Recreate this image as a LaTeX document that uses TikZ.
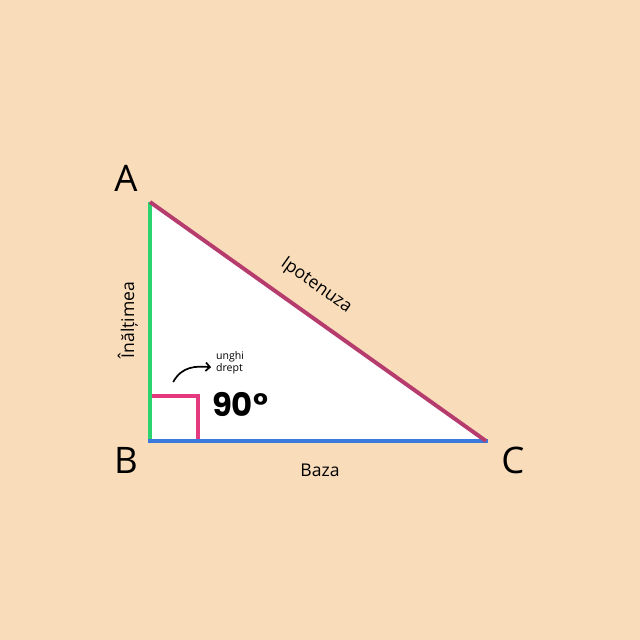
\documentclass[tikz,border=0pt]{standalone}
\usepackage{fontspec}
\setmainfont{Open Sans}
\newfontfamily\boldfont{Poppins}
\usepackage{tikz}
\usetikzlibrary{calc,arrows.meta}
\definecolor{peach}{HTML}{F9DCBA}
\definecolor{heightgreen}{HTML}{2BD46E}
\definecolor{hypotplum}{HTML}{B63C6E}
\definecolor{baseblue}{HTML}{3C79DC}
\definecolor{anglepink}{HTML}{E5397F}
\tikzset{
	vertexname/.style={font=\fontsize{26}{26}\selectfont, text=black},
	sidename/.style={font=\fontsize{12.5}{13}\selectfont, text=black},
	side/.style={line width=2.8pt}
}

\begin{document}
\begin{tikzpicture}
		%%%%% START %%%%%
		
		\fill[peach] (0, 0) rectangle (16, 16);
		\useasboundingbox (0, 0) rectangle (16, 16);
		
		\coordinate (A) at (3.75, 10.95);
		\coordinate (B) at (3.75, 4.975);
		\coordinate (C) at (12.15, 4.975);
		
		\fill[white] (A) -- (B) -- (C) -- cycle;
		
		% right angle mark
		\coordinate (r1) at (3.8, 6.1);
		\coordinate (r2) at (4.95, 6.1);
		\coordinate (r3) at (4.95, 4.975);
		\draw[line width=2.4pt, color=anglepink] (r1) -- (r2) -- (r3);
		
		\draw[side, color=heightgreen] (A) -- (B);
		\draw[side, color=baseblue, line cap=rect] (B) -- (C);
		\draw[side, color=hypotplum] (A) -- (C);
		
		\node[vertexname] (nA) at (3.15, 11.55) {A};
		\node[vertexname] (nB) at (3.15, 4.5) {B};
		\node[vertexname] (nC) at (12.825, 4.5) {C};
		
		\node[sidename] (baza) at (8, 4.25) {Baza};
		\node[sidename, rotate=-35.4] (ipot) at (7.9, 8.85) {Ipotenuza};
		\node[sidename, rotate=90] (inalt) at (3.2, 8) {Înălțimea};
		
		\node[font=\boldfont\bfseries\fontsize{23}{23}\selectfont] (unghi) at (6.0, 5.9) {90°};
		\node[font=\fontsize{7.5}{9}\selectfont, align=left] (drept) at (5.75, 6.93) {unghi\\drept};
		
		\coordinate (arrs) at (4.33, 6.45);
		\draw[line width=1.2pt, -{Straight Barb[length=3pt, width=6pt]}] (arrs) .. controls (4.55, 6.85) and (4.9, 6.85) .. (drept.west |- 0, 6.82);
		
		%%%%% END %%%%%
	\end{tikzpicture}
\end{document}
